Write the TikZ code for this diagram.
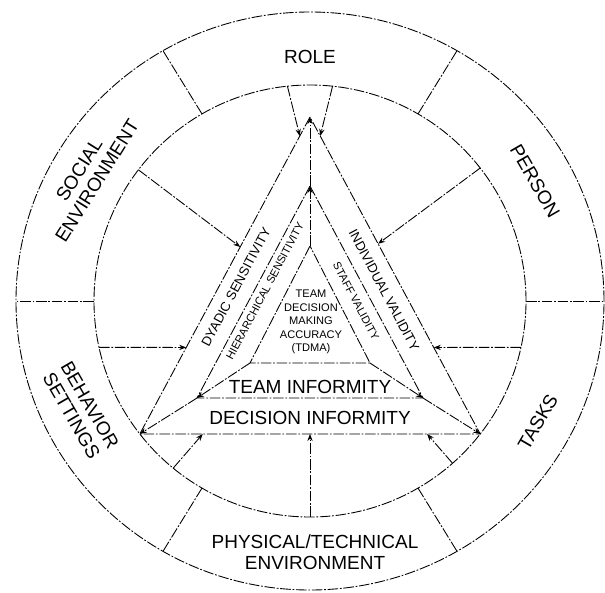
\documentclass[tikz,border=0pt]{standalone}
\usepackage{fontspec}
\setmainfont{Liberation Sans}
\usetikzlibrary{arrows.meta,calc}
\begin{document}
\begin{tikzpicture}[x=0.02cm,y=0.02cm,
  rough/.style={line width=0.5pt,dash pattern=on 6pt off 1pt on 1pt off 1pt},
  arr/.style={rough,-{Stealth[length=4pt,width=3pt]}},
  ring/.style={font=\fontsize{10.8}{12}\selectfont,align=center,inner sep=0pt},
  band/.style={font=\fontsize{7.5}{8}\selectfont,inner sep=0pt},
  thin band/.style={font=\fontsize{6.3}{7.7}\selectfont,align=center,inner sep=0pt},
  bar/.style={font=\fontsize{10.8}{12}\selectfont,inner sep=0pt}]
\useasboundingbox (-310,-291) rectangle (295,301);
\draw[rough] (0,0) ellipse [x radius=294,y radius=289];
\draw[rough] (0,0) circle [radius=216];
\foreach \a in {0,60,...,300}{
  \coordinate (D\a) at (\a:216);
  \coordinate (E\a) at (\a:294 and 289);
  \draw[rough] (D\a) -- (E\a);
}
\path coordinate (OT) at (0,184)
coordinate (OL) at (218:216)
coordinate (OR) at (322:216)
coordinate (MT) at (0,115)
coordinate (ML) at (-113,-97)
coordinate (MR) at (113,-97)
coordinate (IT) at (0,55)
coordinate (IL) at (-60,-62)
coordinate (IR) at (60,-62)
;
\draw[rough] (OT) -- (OL) -- (OR) -- cycle;
\draw[rough] (MT) -- (ML) -- (MR) -- cycle;
\draw[rough] (IT) -- (IL) -- (IR) -- cycle;
\draw[arr] (IT) -- (MT);
\draw[arr] (MT) -- (OT);
\draw[arr] (IL) -- (ML);
\draw[arr] (ML) -- (OL);
\draw[arr] (IR) -- (MR);
\draw[arr] (MR) -- (OR);
\path coordinate (RA) at (96:216)
coordinate (RB) at (84:216)
coordinate (PE) at (38:216)
coordinate (TA) at (-12.4:216)
coordinate (PA) at (230.7:216)
coordinate (PB) at (270:216)
coordinate (PC) at (-48.7:216)
coordinate (BE) at (192.4:216)
coordinate (SO) at (142.6:216)
coordinate (RAe) at ($(OT)!0.06!(OL)$)
coordinate (RBe) at ($(OT)!0.06!(OR)$)
coordinate (PEe) at ($(OT)!0.4!(OR)$)
coordinate (TAe) at ($(OT)!0.727!(OR)$)
coordinate (PAe) at ($(OL)!0.185!(OR)$)
coordinate (PBe) at ($(OL)!0.5!(OR)$)
coordinate (PCe) at ($(OL)!0.844!(OR)$)
coordinate (BEe) at ($(OT)!0.727!(OL)$)
coordinate (SOe) at ($(OT)!0.41!(OL)$)
;
\draw[arr] (RA) -- (RAe);
\draw[arr] (RB) -- (RBe);
\draw[arr] (PE) -- (PEe);
\draw[arr] (TA) -- (TAe);
\draw[arr] (PA) -- (PAe);
\draw[arr] (PB) -- (PBe);
\draw[arr] (PC) -- (PCe);
\draw[arr] (BE) -- (BEe);
\draw[arr] (SO) -- (SOe);
\path node[ring] (ROLE) at (0,244) {ROLE}
node[ring,rotate=-60] (PERSON) at (28:255) {PERSON}
node[ring,rotate=60] (TASKS) at (-28:258) {TASKS}
node[ring] (PHYS) at (5,-251) {PHYSICAL/TECHNICAL\\ENVIRONMENT}
node[ring,rotate=-60] (BEHAV) at (205.5:254) {BEHAVIOR\\SETTINGS}
node[ring,rotate=58] (SOCIAL) at (150.5:255) {SOCIAL\\ENVIRONMENT}
node[band,rotate=62] (DYAD) at (-74,14) {DYADIC SENSITIVITY}
node[thin band,rotate=62] (HIER) at (-45,10) {HIERARCHICAL SENSITIVITY}
node[band,rotate=-62] (INDIV) at (74,11) {INDIVIDUAL VALIDITY}
node[thin band,rotate=-62] (STAFF) at (46,0) {STAFF VALIDITY}
node[thin band] (TDMA) at (1,-21) {TEAM\\DECISION\\MAKING\\ACCURACY\\(TDMA)}
node[bar] (TINF) at (0,-86) {TEAM INFORMITY}
node[bar] (DINF) at (0,-117) {DECISION INFORMITY}
;
\end{tikzpicture}
\end{document}
